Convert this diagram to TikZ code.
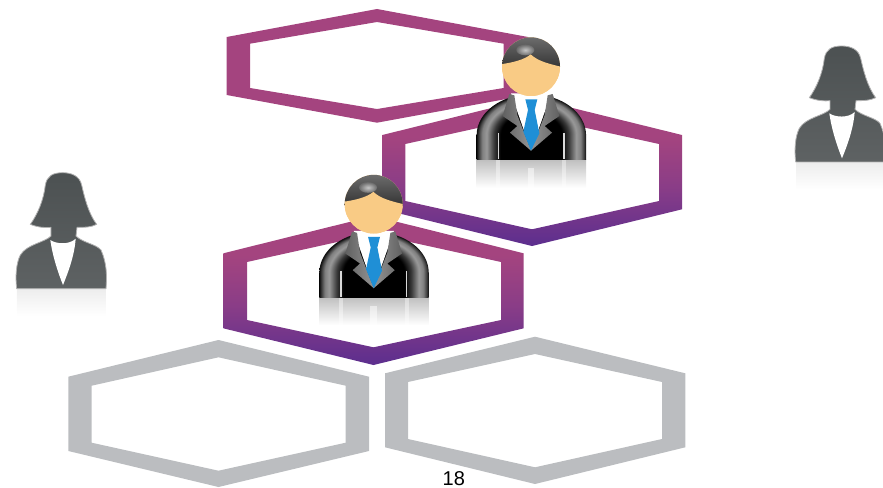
\documentclass[tikz,border=0pt]{standalone}
\usepackage{fontspec}
\setmainfont{Liberation Sans}
\definecolor{hexmag}{HTML}{A4447F}
\definecolor{hexmid}{HTML}{8A3D87}
\definecolor{hexpur}{HTML}{5C2E8E}
\definecolor{hexgry}{HTML}{BBBDC0}
\definecolor{tieblue}{HTML}{1F8FD6}
\definecolor{facepeach}{HTML}{F9CB85}
\definecolor{silh}{HTML}{4C5152}
\definecolor{silhb}{HTML}{5E6263}
\pgfdeclareverticalshading{hexfade}{100bp}{color(0bp)=(hexpur); color(25bp)=(hexpur); color(45bp)=(hexmid); color(62bp)=(hexmag); color(100bp)=(hexmag)}
\pgfdeclareradialshading{sleeve}{\pgfpointorigin}{rgb(0bp)=(0,0,0); rgb(14bp)=(0,0,0); rgb(17bp)=(.22,.22,.22); rgb(20.5bp)=(.6,.6,.6); rgb(22.5bp)=(.5,.5,.5); rgb(24bp)=(.25,.25,.25); rgb(25bp)=(.05,.05,.05); rgb(50bp)=(0,0,0)}
\pgfdeclarehorizontalshading{sleeveh}{100bp}{rgb(0bp)=(0,0,0); rgb(25bp)=(.05,.05,.05); rgb(26bp)=(.25,.25,.25); rgb(27.5bp)=(.5,.5,.5); rgb(29.5bp)=(.6,.6,.6); rgb(33bp)=(.22,.22,.22); rgb(36bp)=(0,0,0); rgb(64bp)=(0,0,0); rgb(67bp)=(.22,.22,.22); rgb(70.5bp)=(.6,.6,.6); rgb(72.5bp)=(.5,.5,.5); rgb(74bp)=(.25,.25,.25); rgb(75bp)=(.05,.05,.05); rgb(100bp)=(0,0,0)}
\tikzset{
  hexflat/.style={fill=hexmag,even odd rule},
  hexshade/.style={shading=hexfade,even odd rule},
  hexgrey/.style={fill=hexgry,even odd rule},
  pagenum/.style={font=\fontsize{20}{20}\selectfont,text=black,inner sep=0pt},
  cropunits/.style={x=0.33333pt,y=-0.33333pt},
}
\newcommand{\manfig}[2]{%
\begin{scope}[shift={(#1,#2)},cropunits]
  \shade[top color=black!25,bottom color=white] (50,419) rectangle (378,503);
  \fill[white,opacity=.4] (109,419) rectangle (121,503);
  \fill[white,opacity=.4] (306,419) rectangle (318,503);
  \fill[white,opacity=.5] (203,445) rectangle (223,503);
  \begin{scope}
    \clip (40,200) rectangle (390,345);
    \shade[shading=sleeve] (214,345) ellipse (164 and 122);
  \end{scope}
  \shade[shading=sleeveh] (50,344) rectangle (378,419);
  \fill[white] (153,220) -- (274,220) -- (213,392) -- cycle;
  \shade[left color=black!62,right color=black!42] (148,222) -- (163,226) -- (172,285) -- (213,392) -- (150,338) -- (172,318) -- (128,288) -- cycle;
  \shade[right color=black!62,left color=black!42] (278,222) -- (263,226) -- (254,285) -- (213,392) -- (276,338) -- (254,318) -- (298,288) -- cycle;
  \fill[tieblue] (196,238) -- (232,238) -- (224,270) -- (238,340) -- (213,392) -- (190,335) -- (204,270) -- cycle;
  \draw[black!15,line width=1.4pt] (115,340) -- (115,418) (312,340) -- (312,418);
  \fill[facepeach] (213,140) ellipse (87 and 88);
  \begin{scope}
    \clip (213,140) ellipse (87 and 88);
    \shade[top color=black!55,bottom color=black!80] (120,40) rectangle (310,145);
    \fill[facepeach] (120,133) .. controls (160,128) and (195,118) .. (212,103) .. controls (235,125) and (270,132) .. (310,142) -- (310,240) -- (120,240) -- cycle;
  \end{scope}
  \shade[inner color=black!22,outer color=black!58] (196,90) ellipse (27 and 16);
\end{scope}}
\newcommand{\womanfig}[2]{%
\begin{scope}[shift={(#1,#2)},cropunits]
  \shade[top color=black!7,bottom color=white] (48,398) rectangle (315,478);
  \shade[top color=silh,bottom color=silhb,draw=black!30,line width=.8pt,line join=round]
    (185,48) .. controls (155,48) and (138,58) .. (133,85)
    .. controls (128,130) and (110,172) .. (88,203)
    .. controls (110,212) and (135,214) .. (150,212)
    -- (150,238) .. controls (130,258) and (78,262) .. (58,295)
    .. controls (45,320) and (43,360) .. (47,396)
    -- (315,396) .. controls (318,360) and (318,320) .. (300,280)
    .. controls (285,262) and (245,258) .. (225,238)
    -- (228,212) .. controls (250,212) and (270,212) .. (287,203)
    .. controls (262,170) and (250,120) .. (242,85)
    .. controls (236,58) and (212,48) .. (185,48) -- cycle;
  \fill[white] (148,250) .. controls (165,262) and (205,265) .. (224,246)
    .. controls (220,300) and (200,350) .. (186,385)
    .. controls (172,350) and (155,300) .. (148,250) -- cycle;
\end{scope}}
\begin{document}
\begin{tikzpicture}[x=1pt,y=-1pt]
\useasboundingbox (0,0) rectangle (883,487);
% top ring
\path[hexflat] (226.7,37) -- (377,9) -- (528,37) -- (528,95) -- (377,122.7) -- (226.7,95) -- cycle
  (250,43.7) -- (250,88) -- (377,109) -- (503.7,88) -- (503.7,43.7) -- (377,22) -- cycle;
% second ring
\path[hexshade] (382.3,135) -- (532,98) -- (682,135) -- (682,209.3) -- (532,246) -- (382.3,209.3) -- cycle
  (405.3,144) -- (405.3,201) -- (532,229.3) -- (659,201) -- (659,144) -- (532,116) -- cycle;
% third ring
\path[hexshade] (223.3,253.3) -- (373.5,216) -- (523.7,253.3) -- (523.7,328.3) -- (373.5,365) -- (223.3,328.3) -- cycle
  (247,262) -- (247,320) -- (373.5,347.3) -- (501,320) -- (501,262) -- (373.5,234) -- cycle;
% grey rings
\path[hexgrey] (68.3,376.7) -- (218.5,340) -- (369,376.7) -- (369,451) -- (218.5,487) -- (68.3,451) -- cycle
  (91.7,385.7) -- (91.7,442.7) -- (218.5,470.7) -- (345.7,442.7) -- (345.7,385.7) -- (218.5,357.3) -- cycle;
\path[hexgrey] (385,373.3) -- (535,336.7) -- (685.3,373.3) -- (685.3,447.3) -- (535,484) -- (385,447.3) -- cycle
  (408,382) -- (408,439) -- (535,467.3) -- (662,439) -- (662,382) -- (535,354) -- cycle;
% people
\manfig{460}{20}
\manfig{302.7}{157.5}
\womanfig{780}{30}
\womanfig{1}{156.7}
\node[pagenum,anchor=base] (pageno) at (453.8,485) {18};
\end{tikzpicture}
\end{document}
